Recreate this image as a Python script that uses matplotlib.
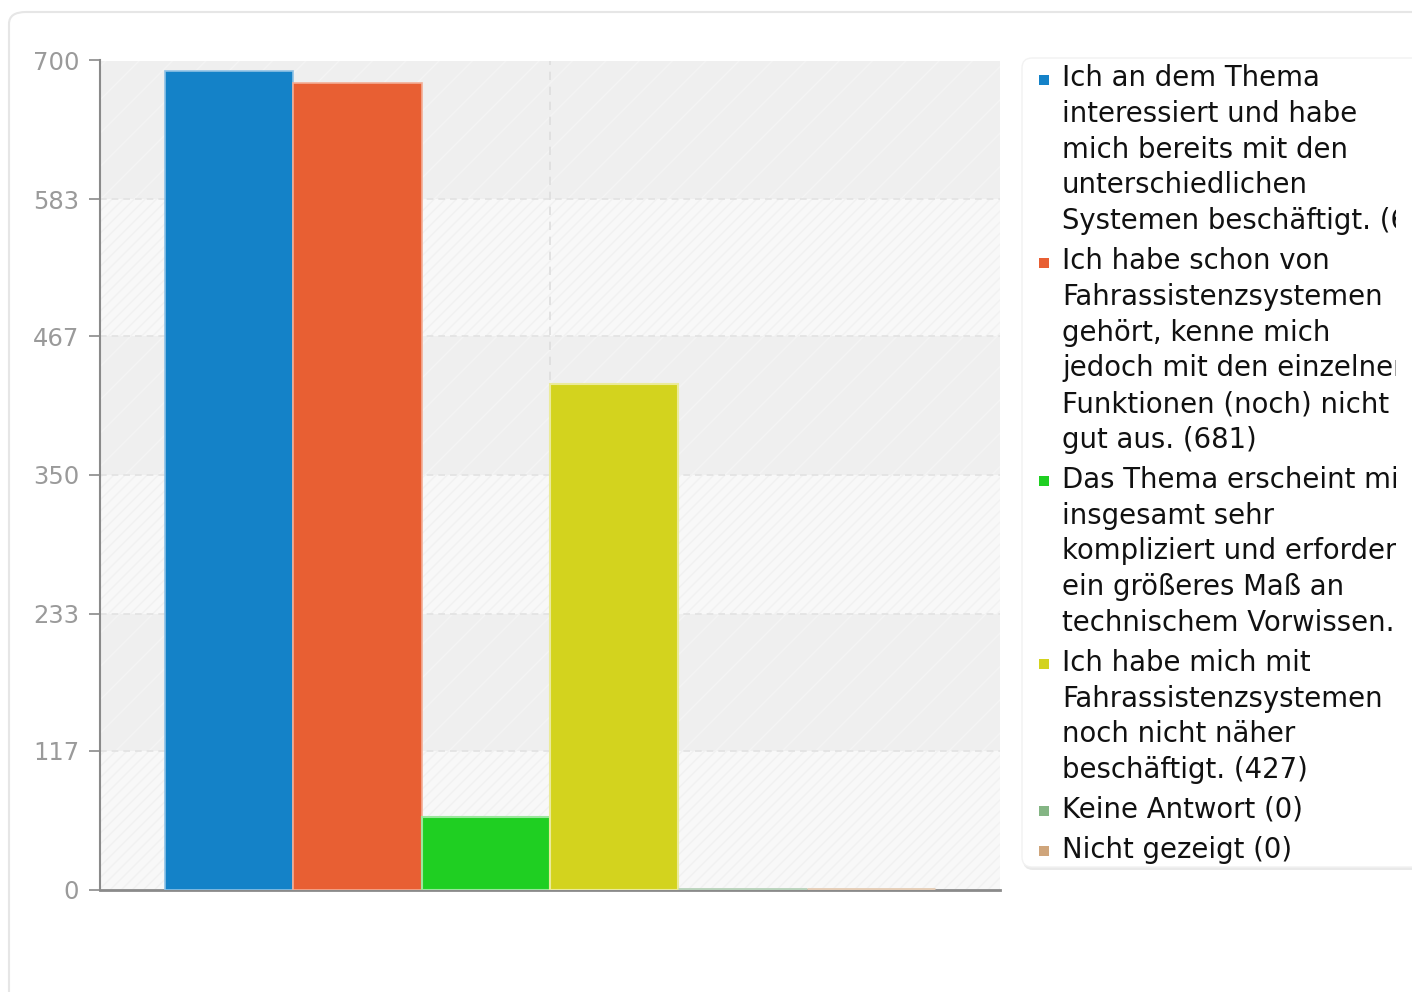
import matplotlib
matplotlib.use("Agg")
import matplotlib.pyplot as plt
from matplotlib.patches import FancyBboxPatch

# Survey answers and their counts
answers = [
    "Ich an dem Thema interessiert und habe mich bereits mit den unterschiedlichen Systemen beschäftigt.",
    "Ich habe schon von Fahrassistenzsystemen gehört, kenne mich jedoch mit den einzelnen Funktionen (noch) nicht gut aus.",
    "Das Thema erscheint mir insgesamt sehr kompliziert und erfordert ein größeres Maß an technischem Vorwissen.",
    "Ich habe mich mit Fahrassistenzsystemen noch nicht näher beschäftigt.",
    "Keine Antwort",
    "Nicht gezeigt",
]
counts = [691, 681, 61, 427, 0, 0]

# Wrapped legend lines per answer (count appended to the last line)
legend_lines = [
    ["Ich an dem Thema", "interessiert und habe", "mich bereits mit den",
     "unterschiedlichen", "Systemen beschäftigt."],
    ["Ich habe schon von", "Fahrassistenzsystemen", "gehört, kenne mich",
     "jedoch mit den einzelnen", "Funktionen (noch) nicht", "gut aus."],
    ["Das Thema erscheint mir", "insgesamt sehr", "kompliziert und erfordert",
     "ein größeres Maß an", "technischem Vorwissen."],
    ["Ich habe mich mit", "Fahrassistenzsystemen", "noch nicht näher",
     "beschäftigt."],
    ["Keine Antwort"],
    ["Nicht gezeigt"],
]

y_ticks = [0, 117, 233, 350, 467, 583, 700]
colors = ["#1482c8", "#e85f33", "#1fcf22", "#d3d31e", "#84b584", "#cfa57b"]
edge_colors = ["#8fc2e6", "#f3ad95", "#9be79d", "#ebeb9a", "#b9d3bb", "#e5cdb6"]

W, H = 1412, 992
fig = plt.figure(figsize=(W / 100, H / 100), dpi=100)
fig.patch.set_facecolor("white")

# Outer rounded frame
frame = FancyBboxPatch((9 / W, -0.05), 1.2, 1 - 12 / H + 0.05,
                       boxstyle="round,pad=0,rounding_size=0.012",
                       transform=fig.transFigure, facecolor="none",
                       edgecolor="#e6e6e6", linewidth=1.5, zorder=-1)
fig.patches.append(frame)

x0, x1 = 100, 1000
y_top, y_bot = 60.5, 889.5
ax = fig.add_axes([x0 / W, 1 - y_bot / H, (x1 - x0) / W, (y_bot - y_top) / H])
ax.set_facecolor("none")

ax.set_ylim(0, 700)
ax.set_xlim(-1.007, 6.008)

# Alternating background bands
for i in range(len(y_ticks) - 1):
    lo, hi = y_ticks[i], y_ticks[i + 1]
    if i % 2 == 0:
        ax.axhspan(lo, hi, facecolor="#f8f8f8", edgecolor="#f1f1f1",
                   hatch="///", linewidth=0, zorder=0)
    else:
        ax.axhspan(lo, hi, facecolor="#efefef", edgecolor="#f4f4f4",
                   hatch="/", linewidth=0, zorder=0)

# Grid lines
for v in y_ticks[1:-1]:
    ax.axhline(v, color="#e2e2e2", linestyle=(0, (4, 3)), linewidth=1.2, zorder=1)
ax.axvline(2.5, color="#dedede", linestyle=(0, (5, 4)), linewidth=1.2, zorder=1)

# Bars
xs = list(range(len(counts)))
ax.bar(xs, counts, width=1.0, color=colors, edgecolor=edge_colors,
       linewidth=[1.2, 1.2, 1.5, 1.5, 3.5, 3.5], zorder=3)

# Axes styling
for side in ("top", "right"):
    ax.spines[side].set_visible(False)
ax.spines["left"].set_color("#8a8a8a")
ax.spines["left"].set_linestyle((0, (1, 1)))
ax.spines["left"].set_linewidth(1.5)
ax.spines["bottom"].set_color("#8a8a8a")
ax.spines["bottom"].set_linewidth(2)
ax.spines["bottom"].set_zorder(2)

ax.set_yticks(y_ticks)
ax.set_yticklabels([str(v) for v in y_ticks])
ax.tick_params(axis="y", length=8, width=1.2, color="#8a8a8a",
               labelcolor="#9a9a9a", labelsize=17.5, pad=7)
ax.set_xticks([])

# Legend panel
lx0, lx1 = 1022, 1396
ly_top, ly_bot = 58, 868
leg_ax = fig.add_axes([lx0 / W, 1 - ly_bot / H, (lx1 - lx0) / W, (ly_bot - ly_top) / H])
leg_ax.set_axis_off()
leg_ax.set_xlim(lx0, lx1)
leg_ax.set_ylim(ly_bot, ly_top)
shadow = FancyBboxPatch((lx0 + 1, ly_top + 2), 420, ly_bot - ly_top,
                        boxstyle="round,pad=0,rounding_size=10",
                        facecolor="#e9e9e9", edgecolor="none", zorder=0,
                        clip_on=False)
panel = FancyBboxPatch((lx0, ly_top), 420, ly_bot - ly_top - 1,
                       boxstyle="round,pad=0,rounding_size=10",
                       facecolor="white", edgecolor="#f2f2f2", linewidth=1,
                       zorder=1, clip_on=False)
leg_ax.add_patch(shadow)
leg_ax.add_patch(panel)

line_step = 35.8
group_gap = 4.0
y = 78
for lines, n, c in zip(legend_lines, counts, colors):
    lines = lines[:-1] + [f"{lines[-1]} ({n})"]
    leg_ax.add_patch(plt.Rectangle((1038.5, y - 3.5), 10, 10, facecolor=c,
                                   edgecolor="none", zorder=2))
    for ln in lines:
        t = leg_ax.text(1062, y, ln, fontsize=19.8, color="#111111",
                        ha="left", va="center", family="DejaVu Sans", zorder=3)
        t.set_clip_on(True)
        t.set_clip_box(leg_ax.bbox)
        y += line_step
    y += group_gap

fig.savefig("out.png", dpi=100, facecolor="white")
